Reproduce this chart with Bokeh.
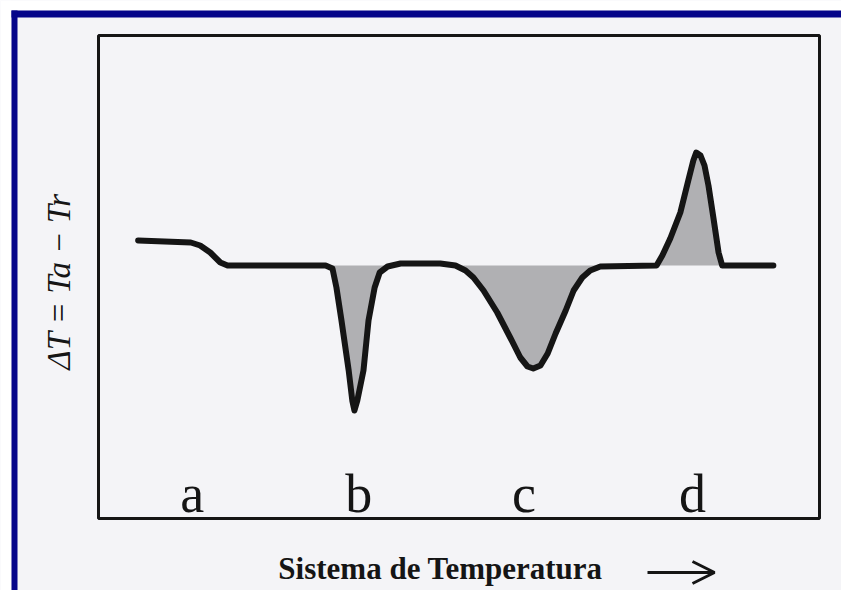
import numpy as np
from bokeh.plotting import figure
from bokeh.models import BoxAnnotation, Label, Arrow, OpenHead, Range1d, ColumnDataSource
from bokeh.core.properties import value
from bokeh.embed import file_html
from bokeh.resources import INLINE

# --- DTA thermogram: temperature (arbitrary units) vs. delta T ---
# a: baseline drift (change of heat capacity)
drift_x = [5.5, 12.8, 14.1, 15.5, 16.9, 17.9, 31.5]
drift_y = [2.5, 2.3, 2.0, 1.3, 0.3, 0.0, 0.0]

# b: sharp endothermic peak
peak_b_x = [31.5, 32.45, 33.0, 33.7, 34.7, 35.2, 35.5, 35.9, 36.75, 37.45, 38.3, 39.0, 40.1]
peak_b_y = [0.0, -0.3, -2.2, -5.5, -10.5, -13.5, -14.5, -13.5, -10.5, -5.5, -2.2, -0.7, -0.1]

# small rise of the baseline between b and c
gap_x = [40.1, 41.9, 47.4, 49.5]
gap_y = [-0.1, 0.2, 0.2, 0.0]

# c: broad endothermic peak
peak_c_x = [49.5, 50.9, 52.0, 53.4, 55.3, 57.1, 58.5, 59.5, 60.3, 61.3, 62.3, 63.4, 64.8, 65.9, 67.1, 68.2, 69.6]
peak_c_y = [0.0, -0.5, -1.2, -2.5, -4.7, -7.2, -9.2, -10.1, -10.3, -10.0, -8.8, -6.8, -4.5, -2.5, -1.2, -0.5, -0.1]

# d: exothermic peak
peak_d_x = [77.4, 78.2, 79.3, 80.7, 81.8, 82.5, 82.9, 83.5, 84.05, 84.6, 85.3, 86.0, 86.5]
peak_d_y = [0.0, 1.0, 2.7, 5.3, 8.5, 10.5, 11.3, 11.0, 10.0, 8.0, 4.7, 1.3, 0.0]

end_x = [86.5, 93.6]
end_y = [0.0, 0.0]

event_labels = ["a", "b", "c", "d"]
event_x = [13.0, 36.1, 59.0, 82.4]
event_y = [-22.8, -22.8, -22.8, -22.8]

x_title = "Sistema de Temperatura"
y_title = "\u0394T = Ta \u2212 Tr"

# data extent of the boxed plot area
X_MIN, X_MAX = 0.0, 100.0
Y_MIN, Y_MAX = -25.3, 23.0

W, H = 841, 590
BOX_L, BOX_R, BOX_T, BOX_B = 98, 819, 35, 518   # boxed area on the page, px

PAGE = "#f4f4f7"
NAVY = "#05058a"
INK = "#151515"
FILL = "#b0b0b3"

# the frame spans the whole page; extend the ranges so the box lands where it should
sx = (X_MAX - X_MIN) / (BOX_R - BOX_L)
sy = (Y_MAX - Y_MIN) / (BOX_B - BOX_T)
x_range = Range1d(X_MIN - BOX_L * sx, X_MAX + (W - BOX_R) * sx)
y_range = Range1d(Y_MIN - (H - BOX_B) * sy, Y_MAX + BOX_T * sy)

p = figure(width=W, height=H, output_backend="svg", toolbar_location=None,
           x_range=x_range, y_range=y_range,
           min_border=0, min_border_left=0, min_border_right=0, min_border_top=0, min_border_bottom=0)
p.axis.visible = False
p.grid.visible = False
p.background_fill_color = PAGE
p.border_fill_color = PAGE
p.outline_line_color = None

# white margin and navy rule along top and left of the page
def canvas_box(l, r, t, b, **kw):
    return BoxAnnotation(left=l, right=r, top=t, bottom=b, left_units="canvas", right_units="canvas",
                         top_units="canvas", bottom_units="canvas", level="underlay", **kw)

p.add_layout(canvas_box(0, W, 0, 10, fill_color="white", fill_alpha=1, line_alpha=0))
p.add_layout(canvas_box(0, 11, 0, H, fill_color="white", fill_alpha=1, line_alpha=0))
p.add_layout(canvas_box(11, W, 10, 17, fill_color=NAVY, fill_alpha=1, line_alpha=0))
p.add_layout(canvas_box(11, 17, 10, H, fill_color=NAVY, fill_alpha=1, line_alpha=0))

# plot box
p.add_layout(BoxAnnotation(left=X_MIN, right=X_MAX, bottom=Y_MIN, top=Y_MAX, fill_alpha=0,
                           line_color=INK, line_alpha=1, line_width=3, level="underlay"))

# shaded areas between each peak and the baseline
for px, py in [(peak_b_x, peak_b_y), (peak_c_x, peak_c_y), (peak_d_x, peak_d_y)]:
    p.varea(x=px, y1=[0.0] * len(px), y2=py, fill_color=FILL)

curve_x = drift_x + peak_b_x[1:] + gap_x[1:] + peak_c_x[1:] + peak_d_x + end_x[1:]
curve_y = drift_y + peak_b_y[1:] + gap_y[1:] + peak_c_y[1:] + peak_d_y + end_y[1:]
p.line(curve_x, curve_y, line_color=INK, line_width=6, line_join="round", line_cap="round")

src = ColumnDataSource(dict(x=event_x, y=event_y, t=event_labels))
p.text(x="x", y="y", text="t", source=src, text_font=value("Liberation Serif"),
       text_font_size="54px", text_align="center", text_baseline="alphabetic", text_color=INK)

p.add_layout(Label(x=440, y=568, x_units="canvas", y_units="canvas", text=x_title,
                   text_font="Liberation Serif", text_font_style="bold", text_font_size="31px",
                   text_align="center", text_baseline="alphabetic", text_color=INK))
p.add_layout(Label(x=58, y=281, x_units="canvas", y_units="canvas", text=y_title, angle=np.pi / 2,
                   text_font="Liberation Serif", text_font_style="italic", text_font_size="33px",
                   text_align="center", text_baseline="middle", text_color=INK))
p.add_layout(Arrow(x_start=647, y_start=572, x_end=714, y_end=572, start_units="canvas", end_units="canvas",
                   line_color=INK, line_width=3,
                   end=OpenHead(size=22, line_color=INK, line_width=3)))

open("out.html", "w").write(file_html(p, INLINE))
